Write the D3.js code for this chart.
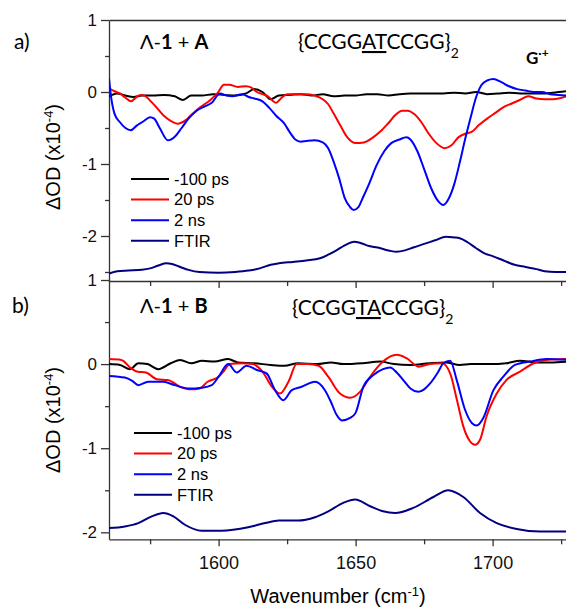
<!DOCTYPE html>
<html>
<head>
<meta charset="utf-8">
<script src="https://cdn.jsdelivr.net/npm/d3@7"></script>
<style>
  body { margin: 0; background: #fff; }
  .axis path, .axis line { stroke: #333; stroke-width: 1.3; }
  .axis text { font-family: "Liberation Sans", Arial, sans-serif; fill: #111; }
  .lbl { font-family: Lato, "Open Sans", sans-serif; fill: #000; }
</style>
</head>
<body>
<svg class="chart"></svg>
<script>
// wavenumber ticks
var majorTicks = [1600, 1650, 1700],
    minorTicks = [1575, 1625, 1675, 1725];

var legendLabels = ['-100 ps', '20 ps', '2 ns', 'FTIR'];
var colors = ['#000000', '#ff0000', '#0000ff', '#000080'];

// panel a) [wavenumber, dOD x1e-4]
var aBlack = [[1560,-0.06],[1563,-0.02],[1566,-0.05],[1569,-0.07],[1572,-0.05],[1576,-0.05],[1580,-0.04],[1584,-0.06],[1587,-0.11],[1590,-0.05],[1594,-0.05],[1598,-0.03],[1602,-0.04],[1606,-0.05],[1610,-0.02],[1613,0.04],[1616,0.0],[1619,-0.1],[1622,-0.05],[1626,-0.04],[1630,-0.03],[1634,-0.05],[1638,-0.03],[1642,-0.06],[1646,-0.05],[1650,-0.05],[1654,-0.03],[1658,-0.03],[1662,-0.05],[1666,-0.03],[1670,-0.02],[1674,-0.02],[1678,-0.02],[1682,-0.02],[1686,-0.01],[1690,-0.02],[1694,0.0],[1698,-0.03],[1702,-0.02],[1706,-0.01],[1710,-0.02],[1714,-0.02],[1718,-0.02],[1722,-0.01],[1727,0.01]];
var aRed = [[1560,0.05],[1562,0.01],[1564,-0.02],[1566,-0.08],[1568,-0.13],[1570,-0.07],[1571.5,-0.04],[1573,-0.05],[1575,-0.12],[1577,-0.2],[1580,-0.33],[1582.5,-0.4],[1585,-0.44],[1588,-0.39],[1590,-0.32],[1593,-0.22],[1597,-0.11],[1599.5,-0.02],[1602,0.1],[1604,0.1],[1607,0.07],[1610,0.08],[1612,0.06],[1614,0.0],[1616,-0.03],[1618,-0.06],[1621,-0.15],[1623,-0.08],[1625,-0.03],[1628,-0.03],[1632,-0.03],[1635,-0.05],[1638,-0.1],[1640,-0.17],[1642,-0.3],[1644.5,-0.47],[1647,-0.63],[1650,-0.71],[1653,-0.7],[1656,-0.64],[1659,-0.55],[1662,-0.43],[1664.5,-0.32],[1667,-0.26],[1669,-0.26],[1671.5,-0.31],[1674,-0.42],[1676.5,-0.57],[1679.5,-0.71],[1682.5,-0.78],[1685,-0.74],[1687.5,-0.63],[1690,-0.58],[1692.5,-0.55],[1695,-0.46],[1698,-0.37],[1701,-0.29],[1704,-0.21],[1707,-0.16],[1710,-0.11],[1713,-0.06],[1716,-0.09],[1719,-0.1],[1722,-0.1],[1727,-0.06]];
var aBlue = [[1560,0.19],[1560.7,-0.05],[1562,-0.3],[1564,-0.42],[1566,-0.5],[1568,-0.53],[1570,-0.47],[1572.5,-0.41],[1575,-0.35],[1576.5,-0.37],[1578.5,-0.5],[1581.5,-0.67],[1584,-0.62],[1586.5,-0.5],[1589,-0.37],[1592,-0.26],[1595,-0.2],[1597.5,-0.15],[1600.5,-0.02],[1603,-0.05],[1605,-0.06],[1608.5,-0.03],[1611,-0.07],[1613,-0.09],[1616,-0.13],[1618.5,-0.22],[1621,-0.33],[1624,-0.44],[1626,-0.56],[1628,-0.66],[1630,-0.69],[1632,-0.68],[1635,-0.67],[1638,-0.7],[1640,-0.78],[1642,-0.97],[1644,-1.2],[1646,-1.47],[1648,-1.6],[1649.3,-1.64],[1651,-1.6],[1652.5,-1.48],[1655,-1.27],[1657.5,-1.03],[1660.5,-0.82],[1663,-0.71],[1666,-0.66],[1668.5,-0.63],[1670,-0.66],[1672.5,-0.82],[1675,-1.07],[1677.5,-1.33],[1680,-1.51],[1682,-1.57],[1684,-1.48],[1686,-1.28],[1688,-0.98],[1690,-0.65],[1692,-0.35],[1694,-0.07],[1696,0.1],[1698,0.16],[1700.3,0.18],[1703,0.14],[1706,0.08],[1709,0.04],[1712,0.02],[1715,0.0],[1718,0.0],[1721,-0.03],[1724,-0.04],[1727,-0.05]];
var aFtir = [[1560,-2.52],[1563,-2.49],[1567,-2.48],[1572,-2.47],[1575,-2.45],[1578,-2.41],[1581,-2.38],[1583,-2.39],[1586,-2.43],[1589,-2.47],[1593,-2.5],[1600,-2.51],[1606,-2.5],[1611,-2.48],[1615,-2.45],[1619,-2.4],[1622,-2.38],[1627,-2.36],[1632,-2.34],[1637,-2.31],[1640,-2.26],[1643,-2.2],[1646,-2.13],[1649.5,-2.08],[1652,-2.1],[1655,-2.14],[1658,-2.16],[1662,-2.2],[1665,-2.22],[1668,-2.2],[1671,-2.16],[1675,-2.11],[1679,-2.06],[1683,-2.01],[1686,-2.02],[1688,-2.03],[1691,-2.09],[1694,-2.17],[1697,-2.24],[1700,-2.28],[1704,-2.34],[1708,-2.4],[1712,-2.43],[1716,-2.46],[1719,-2.49],[1723,-2.5],[1727,-2.5]];

// panel b)
var bBlack = [[1560,0.0],[1564,-0.01],[1567.7,-0.06],[1570.7,0.01],[1574,0.0],[1578,-0.06],[1582.5,0.01],[1586,0.05],[1590,0.01],[1594,0.04],[1598.5,0.03],[1603.5,0.06],[1607,0.02],[1613,0.01],[1619,-0.01],[1624,-0.02],[1629,0.01],[1636,0.0],[1641,0.02],[1645.5,0.0],[1652.5,0.01],[1659,0.03],[1664,0.0],[1670,-0.01],[1677,0.01],[1683,0.02],[1688,-0.01],[1692,0.0],[1699,0.0],[1705,0.01],[1710,0.04],[1716,0.02],[1721,0.02],[1727,0.03]];
var bRed = [[1560,0.06],[1564.5,0.05],[1568,-0.05],[1570.5,-0.09],[1573.5,-0.1],[1577.5,-0.18],[1581.5,-0.19],[1586,-0.27],[1590,-0.3],[1593,-0.29],[1596,-0.21],[1600,-0.15],[1602,-0.08],[1604,0.0],[1608.5,0.01],[1612.5,0.0],[1616,-0.09],[1619.5,-0.27],[1622.4,-0.35],[1625.5,-0.21],[1628.5,0.0],[1632.5,0.0],[1636.5,-0.02],[1640,-0.15],[1644.3,-0.35],[1648,-0.4],[1651.6,-0.33],[1655.3,-0.15],[1660,0.03],[1665,0.11],[1668.6,0.07],[1673,-0.03],[1677,0.0],[1681.5,0.01],[1684.5,-0.11],[1687,-0.43],[1689.3,-0.74],[1691.8,-0.92],[1693.6,-0.96],[1695.4,-0.9],[1697.8,-0.62],[1701.5,-0.35],[1705,-0.19],[1710,-0.09],[1715,0.01],[1719.7,0.05],[1727,0.06]];
var bBlue = [[1560,-0.14],[1565.8,-0.16],[1568.5,-0.2],[1570.7,-0.25],[1574.3,-0.21],[1579.8,-0.21],[1584,-0.25],[1589,-0.29],[1594,-0.28],[1597.5,-0.25],[1600,-0.15],[1603.5,0.0],[1606.6,-0.1],[1610.2,-0.02],[1614,-0.07],[1617.5,-0.11],[1620.6,-0.31],[1623.6,-0.43],[1626.7,-0.31],[1630.3,-0.27],[1635.2,-0.21],[1638.8,-0.31],[1641,-0.45],[1643,-0.6],[1645,-0.67],[1648,-0.64],[1650,-0.58],[1652.8,-0.27],[1656.5,-0.13],[1660,-0.06],[1662.6,-0.04],[1665,-0.1],[1667.4,-0.19],[1670,-0.29],[1672.9,-0.33],[1675,-0.3],[1677.2,-0.23],[1680,-0.1],[1682,0.01],[1684.5,0.04],[1686.9,-0.19],[1689.9,-0.54],[1692.4,-0.7],[1694.2,-0.73],[1696.6,-0.64],[1700.3,-0.31],[1703.9,-0.15],[1708.2,-0.01],[1713.6,0.03],[1719.7,0.06],[1727,0.05]];
var bFtir = [[1560,-1.95],[1565.8,-1.93],[1570.7,-1.89],[1575.6,-1.81],[1579.8,-1.77],[1583.5,-1.81],[1587.7,-1.91],[1593.8,-1.98],[1601,-1.98],[1610.8,-1.94],[1617,-1.89],[1622,-1.86],[1629,-1.86],[1635.2,-1.82],[1640,-1.75],[1645.5,-1.65],[1649.8,-1.61],[1655.3,-1.69],[1660,-1.75],[1664.4,-1.77],[1671,-1.71],[1678.4,-1.58],[1683.8,-1.5],[1689.3,-1.58],[1695.4,-1.77],[1701.5,-1.89],[1708.8,-1.96],[1717.3,-1.99],[1727,-1.99]];

var width = 566, height = 607,
    left = 109, right = 566.6;

var chart = d3.select('.chart')
    .attr('width', width)
    .attr('height', height);

var x = d3.scaleLinear().domain([1560, 1727]).range([left, right]);

// plain integers with an ascii hyphen, like the original
var intFmt = function(d) { return String(d); };

var panels = [
  { y: d3.scaleLinear().domain([-2.625, 1]).range([281, 20]),
    series: [aBlack, aRed, aBlue, aFtir],
    yMajor: [1, 0, -1, -2], yMinor: [0.5, -0.5, -1.5, -2.5],
    tag: 'a)', host: 'A', seq: ['{CCGG', 'AT', 'CCGG}'],
    legendY: 179, legendX: 131, labelY: 157 },
  { y: d3.scaleLinear().domain([-2.083, 1]).range([539.3, 280]),
    series: [bBlack, bRed, bBlue, bFtir],
    yMajor: [1, 0, -1, -2], yMinor: [0.5, -0.5, -1.5],
    tag: 'b)', host: 'B', seq: ['{CCGG', 'TA', 'CCGG}'],
    legendY: 433, legendX: 134, labelY: 420 }
];

chart.append('defs').selectAll('clipPath')
    .data(panels)
  .enter().append('clipPath')
    .attr('id', function(d, i) { return 'clip' + i; })
  .append('rect')
    .attr('x', left)
    .attr('y', function(d) { return d.y.range()[1]; })
    .attr('width', right - left)
    .attr('height', function(d) { return d.y.range()[0] - d.y.range()[1]; });

panels.forEach(function(p, i) {
  var y = p.y,
      yTop = y.range()[1], yBot = y.range()[0];

  var line = d3.line()
      .x(function(d) { return x(d[0]); })
      .y(function(d) { return y(d[1]); })
      .curve(d3.curveMonotoneX);

  // y axis, major + minor
  chart.append('g')
      .attr('class', 'axis')
      .attr('transform', 'translate(' + left + ',0)')
      .call(d3.axisLeft(y).tickValues(p.yMajor).tickSize(8).tickSizeOuter(0).tickPadding(4).tickFormat(intFmt))
      .selectAll('text').style('font-size', '17px');
  chart.append('g')
      .attr('class', 'axis')
      .attr('transform', 'translate(' + left + ',0)')
      .call(d3.axisLeft(y).tickValues(p.yMinor).tickSize(4).tickSizeOuter(0).tickFormat(''))
      .select('.domain').remove();

  // top border only for first panel, x ticks along the bottom of each
  if (i === 0) {
    chart.append('g')
        .attr('class', 'axis')
        .attr('transform', 'translate(0,' + yTop + ')')
        .call(d3.axisTop(x).tickValues([]).tickSizeOuter(0));
  }
  chart.append('g')
      .attr('class', 'axis')
      .attr('transform', 'translate(0,' + yBot + ')')
      .call(d3.axisBottom(x).tickValues(majorTicks).tickSize(7).tickSizeOuter(0).tickPadding(10)
        .tickFormat(i === 1 ? intFmt : ''))
      .selectAll('text').style('font-size', '18px');
  chart.append('g')
      .attr('class', 'axis')
      .attr('transform', 'translate(0,' + yBot + ')')
      .call(d3.axisBottom(x).tickValues(minorTicks).tickSize(5).tickSizeOuter(0).tickFormat(''))
      .select('.domain').remove();

  // spectra
  chart.append('g')
      .attr('clip-path', 'url(#clip' + i + ')')
    .selectAll('path')
      .data(p.series)
    .enter().append('path')
      .attr('d', line)
      .attr('fill', 'none')
      .attr('stroke', function(d, j) { return colors[j]; })
      .attr('stroke-width', 2);

  // legend
  var lg = chart.append('g')
      .attr('transform', 'translate(' + p.legendX + ',' + p.legendY + ')');
  var row = lg.selectAll('g')
      .data(legendLabels)
    .enter().append('g')
      .attr('transform', function(d, j) { return 'translate(0,' + (j * 20.6) + ')'; });
  row.append('line')
      .attr('x1', 0).attr('x2', 38)
      .attr('stroke', function(d, j) { return colors[j]; })
      .attr('stroke-width', 2);
  row.append('text')
      .attr('x', 43)
      .attr('dy', '0.35em')
      .style('font-family', '"Liberation Sans", Arial, sans-serif')
      .style('font-size', '16.5px')
      .text(function(d) { return d; });

  // y label
  var yl = chart.append('text')
      .attr('transform', 'translate(60,' + p.labelY + ') rotate(-90)')
      .attr('text-anchor', 'middle')
      .style('font-family', '"Liberation Sans", Arial, sans-serif')
      .style('font-size', '20px');
  yl.append('tspan').text('\u0394OD (x10');
  yl.append('tspan').attr('baseline-shift', 'super').style('font-size', '13px').text('-4');
  yl.append('tspan').text(')');

  // panel tag and sample text
  var base = yTop + (i === 0 ? 29 : 33);
  chart.append('text')
      .attr('class', 'lbl')
      .attr('x', i === 0 ? 14 : 12).attr('y', base)
      .style('font-size', '21px')
      .text(p.tag);

  var host = chart.append('text')
      .attr('class', 'lbl')
      .attr('x', 140).attr('y', base)
      .style('font-size', '20px');
  host.append('tspan').text('\u039B-');
  host.append('tspan').style('font-weight', 'bold').text('1');
  host.append('tspan').text(' + ');
  host.append('tspan').style('font-weight', 'bold').text(p.host);

  var seq = chart.append('text')
      .attr('class', 'lbl')
      .attr('x', i === 0 ? 298 : 292).attr('y', base + (i === 0 ? 0 : 2))
      .style('font-size', '21px');
  seq.append('tspan').text(p.seq[0]);
  seq.append('tspan').style('text-decoration', 'underline').text(p.seq[1]);
  seq.append('tspan').text(p.seq[2]);
  seq.append('tspan').attr('baseline-shift', 'sub').style('font-size', '14px').text('2');
});

// G radical cation marker
var g = chart.append('text')
    .attr('class', 'lbl')
    .attr('x', 526).attr('y', 64)
    .style('font-size', '17px')
    .style('font-weight', 'bold');
g.append('tspan').text('G');
g.append('tspan').attr('baseline-shift', 'super').style('font-size', '12px').text('\u00B7+');

// x label
var xl = chart.append('text')
    .attr('x', 338).attr('y', 603)
    .attr('text-anchor', 'middle')
    .style('font-family', '"Liberation Sans", Arial, sans-serif')
    .style('font-size', '20px');
xl.append('tspan').text('Wavenumber (cm');
xl.append('tspan').attr('baseline-shift', 'super').style('font-size', '13px').text('-1');
xl.append('tspan').text(')');
</script>
</body>
</html>
